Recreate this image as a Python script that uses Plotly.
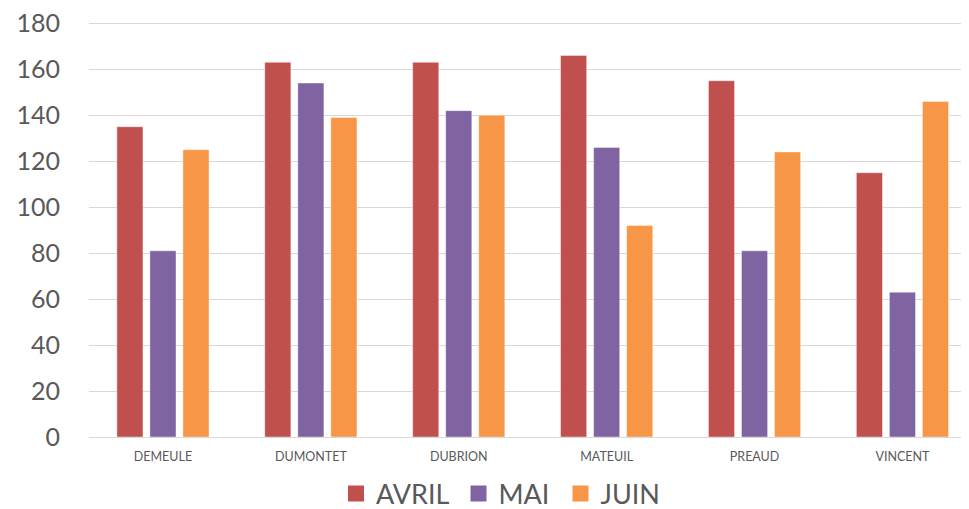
import plotly.graph_objects as go

# ---------- données ----------
noms = ['DEMEULE', 'DUMONTET', 'DUBRION', 'MATEUIL', 'PREAUD', 'VINCENT']
avril = [135, 163, 163, 166, 155, 115]
mai = [81, 154, 142, 126, 81, 63]
juin = [125, 139, 140, 92, 124, 146]

series = [('AVRIL', avril, '#C0504D'), ('MAI', mai, '#8064A2'), ('JUIN', juin, '#F79646')]
y_ticks = list(range(0, 181, 20))

fig = go.Figure()
for nom, vals, couleur in series:
    fig.add_trace(go.Bar(x=noms, y=vals, name=nom, marker_color=couleur,
                         marker_line=dict(width=1, color='rgba(255,255,255,0.4)'),
                         showlegend=False))

# une légende par série pour placer chaque entrée comme dans Excel
legendes = ['legend', 'legend2', 'legend3']
pos_leg = [0.2807, 0.4199, 0.5358]
for (nom, vals, couleur), leg in zip(series, legendes):
    fig.add_trace(go.Scatter(x=[None], y=[None], mode='markers', name=nom, legend=leg,
                             marker=dict(symbol='square', size=16, color=couleur)))

leg_style = dict(orientation='h', xanchor='left', y=-0.137, yanchor='middle',
                 font=dict(size=27, color='#595959'), itemsizing='trace',
                 bgcolor='rgba(0,0,0,0)')

# la page ajoute 8px de marge autour du graphique : on compense ici
fig.update_layout(
    width=961, height=501,
    margin=dict(l=81, r=0, t=13, b=72, autoexpand=False),
    paper_bgcolor='white', plot_bgcolor='white',
    barmode='group', bargap=0.33, bargroupgap=0.21,
    font=dict(family='Lato, Open Sans, sans-serif', color='#595959'),
    legend=dict(x=pos_leg[0], **leg_style),
    legend2=dict(x=pos_leg[1], **leg_style),
    legend3=dict(x=pos_leg[2], **leg_style),
)
fig.update_xaxes(range=[-0.5, 5.45], tickfont=dict(size=12.5, color='#595959'),
                 showgrid=False, showline=False, ticks='', ticklabelstandoff=10,
                 automargin=False)
fig.update_yaxes(range=[0, 181], tickvals=y_ticks, tickfont=dict(size=25, color='#595959'),
                 showgrid=True, gridcolor='#d9d9d9', gridwidth=1,
                 zeroline=True, zerolinecolor='#d9d9d9', zerolinewidth=1,
                 showline=False, ticks='', ticklabelstandoff=28, automargin=False,
                 ticklabeloverflow='allow')

fig.write_html('out.html')
